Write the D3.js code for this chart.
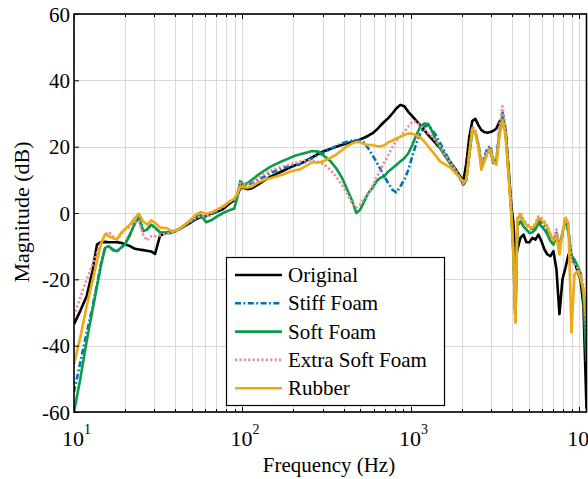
<!DOCTYPE html>
<html>
<head>
<meta charset="utf-8">
<script src="https://cdn.jsdelivr.net/npm/d3@7/dist/d3.min.js"></script>
<style>
  html, body { margin: 0; padding: 0; background: #fff; }
  svg { display: block; }
  text { font-family: "Liberation Serif", "Times New Roman", serif; fill: #000; }
</style>
</head>
<body>
<svg id="chart" width="588" height="479"></svg>
<script>
// Frequency grid (Hz) shared by every response curve
const freqHz = [10, 10.9, 11.9, 12.8, 13.7, 14.5, 15.3, 16.1, 17.0, 18.0, 19.0, 20.1, 21.5, 23.0, 24.3, 25.7, 27.1, 28.7, 30.3, 32.4,
  35.2, 38.2, 41.5, 45.0, 48.9, 53.1, 56.8, 60.8, 65.2, 70.7, 76.8, 83.4, 89.3, 93.0, 96.9,
  101, 107, 114, 124, 135, 146, 159, 172, 187, 203,
  220, 239, 259, 282, 306, 332, 360, 391, 419, 449, 474, 500, 528, 558, 590, 623, 658, 695, 734, 776, 819, 865, 914, 965, 1019, 1077, 1137, 1201, 1269, 1340, 1416,
  1495, 1601, 1715, 1836, 1966, 2048, 2134, 2223, 2316, 2413, 2515, 2620, 2730, 2844, 2964, 3088, 3217, 3352, 3493, 3639, 3791, 3951, 4058, 4171, 4287,
  4467, 4655, 4850, 5053, 5265, 5486, 5715, 5955, 6204, 6465, 6736, 7018, 7311, 7618, 7937, 8270, 8616, 8977, 9353, 9744, 10152, 10577, 11025];

// Magnitude responses (dB)
const originalDb = [-33.5, -29.5, -25, -18, -9.5, -8.8, -8.7, -8.8, -8.8, -8.8, -9, -9.4, -10, -10.8, -11, -11.2, -11.4, -11.6, -12.3, -6.8,
  -6, -5.8, -5, -4, -3, -1.8, -1.2, -0.8, -0.2, 0.4, 1.2, 2.8, 3.8, 5, 7.5,
  7.6, 7.2, 7.5, 8.6, 9.8, 10.9, 11.8, 12.6, 13.5, 14.3,
  14.8, 15.8, 16.8, 17.8, 18.7, 19.3, 20, 20.6, 21, 21.4, 21.8, 22.2, 22.7, 23.3, 24, 25, 26.3, 27.5, 28.6, 30, 31.5, 32.6, 32.2, 30.5, 29.2, 27.8, 26.5, 25, 23.5, 22.2, 20.8,
  19.5, 17.5, 15.3, 13.3, 11, 9.6, 15, 23, 27.8, 28.4, 26.5, 25, 24.4, 24.2, 24.4, 24.8, 25.5, 27.5, 28.3, 25.5, 14, 2, -3, -14, -11,
  -7.5, -6.5, -8.8, -8.8, -7.5, -8, -6.5, -8.5, -11, -12.5, -13, -11.5, -17, -30.5, -20, -16.5, -12.5, -12.8, -14.5, -17.5, -20, -28, -59];

const stiffFoamDb = [-54, -45, -36, -29, -21.5, -15, -10.5, -10, -11, -11.5, -10.5, -9.4, -6.5, -3, -1.5, -5, -5, -3.5, -4.5, -5.8,
  -6, -6, -5.2, -4, -2.8, -1.5, -0.8, -1.2, -0.5, 0.5, 1.7, 3.3, 4, 5.5, 8.5,
  8.5, 8.5, 9, 10, 11, 12, 12.8, 13.5, 14, 14.5,
  14.8, 15.5, 16.5, 17.5, 18.3, 19.3, 20.2, 21, 21.5, 21.8, 22, 21.8, 21.2, 19.5, 17.5, 15.5, 13.3, 11, 9, 7, 6.2, 8, 10, 13, 17, 21, 24, 26, 26.5, 25, 23.2,
  21, 18, 15.5, 13, 10.3, 8.2, 10.5, 18, 25.5, 24.5, 20.5, 15, 17, 19.5, 20.2, 16, 16, 25, 30.5, 25.5, 13, 0, -12, -33, -2.5,
  -1.2, -2.5, -3.5, -4.5, -4.8, -4, -2, -3, -4, -5.5, -7.5, -9, -6, -10.5, -6.5, -1.5, -5, -14, -15, -16.5, -18.5, -24, -38];

const softFoamDb = [-60, -50, -38.5, -30, -22, -15.5, -10.5, -10, -11.2, -11.5, -10.5, -9.4, -6.5, -3, -1.4, -5.5, -5, -3.5, -4.4, -5.8,
  -5.9, -5.9, -5, -3.8, -2.4, -0.8, -0.8, -2.8, -2.2, -1, 0, 0.8, 1.3, 4.5, 9.6,
  8.6, 9, 10, 11.5, 12.8, 13.9, 14.8, 15.6, 16.4, 17.2,
  17.7, 18.2, 18.7, 18.5, 17.2, 15.7, 13.5, 10.5, 7, 3.5, 0, 1, 3.5, 6, 7.5, 9.5, 10.6, 11, 12.5, 13.5, 14.5, 15.5, 16.5, 18, 20.5, 23.5, 26, 27, 26.8, 24.5, 21.5,
  19.5, 17, 14.8, 12.8, 10.5, 8.5, 10, 17.5, 25, 24, 20.5, 14, 16, 18.3, 18.5, 15, 15.5, 24, 29.5, 25, 13, 0, -12, -32, -4,
  -2.5, -4, -5, -6, -5.8, -5, -3, -4, -5, -6.5, -8.5, -9.5, -7, -10, -6, -2, -6, -13, -14, -16, -18, -25, -45];

const extraSoftFoamDb = [-31, -25.5, -20, -16, -12, -9, -6.5, -5.7, -7, -8, -6.5, -5, -4, -2.8, -2.4, -6.5, -8.3, -7, -7, -6.8,
  -6.2, -6, -5, -3.8, -2.5, -1.5, -1, -1, 0, 1, 2.2, 3.5, 4.2, 5.8, 9,
  8.8, 8.6, 9.2, 10.5, 11.7, 12.7, 13.4, 14, 14.5, 15,
  15.6, 16, 15.8, 15.4, 14.6, 13, 11, 8.3, 5.8, 2.8, 1.6, 2.6, 4.3, 6, 8, 10.5, 13, 15.3, 17.5, 19.8, 21.8, 23, 24.5, 26, 27.5, 27.5, 26.3, 25.3, 24, 23, 21.5,
  20, 17.5, 15.3, 13, 10.5, 8.5, 10.5, 18.5, 26, 25, 21, 15, 16.5, 19, 19.5, 16, 16.5, 26, 32.2, 26, 13, 0, -12, -33, -1.5,
  0.3, -2, -3, -4, -4.5, -3, -1, -1.5, -2.5, -4, -6.5, -8, -5, -10, -6, -1, -4.5, -14.5, -15.5, -16.5, -18, -22, -36];

const rubberDb = [-45.5, -37.5, -28, -21, -14.5, -9.2, -6.4, -7, -7.6, -7.9, -6, -4.8, -3.5, -1.5, -0.2, -2.5, -3.5, -2.2, -3, -4.4,
  -4.5, -5.5, -5, -3.7, -2.2, -0.4, 0.3, -0.3, 0.2, 1, 2, 3.3, 4.3, 5.5, 8,
  7.8, 7.6, 8, 9.2, 10, 10.5, 11, 11.5, 12.3, 12.8,
  13.2, 14.2, 15.3, 15.2, 15.7, 16.6, 17.6, 19, 20.2, 21, 21.4, 21.3, 20.8, 20.5, 20.5, 20.2, 20.1, 20.4, 21.3, 21.8, 22.5, 23, 23.5, 24, 23.9, 23.4, 22.8, 21.5, 20, 18.5, 17,
  15.5, 14.6, 13.7, 12, 10.5, 9.5, 10, 18, 25.5, 24, 20, 13, 15.5, 18, 19, 15.5, 14.5, 23, 27.7, 23.7, 12, -1, -12.5, -33, -2,
  -0.5, -2.5, -3.6, -4.2, -4.5, -3.5, -1.4, -2.2, -3, -4.5, -6.5, -8.4, -7, -12.5, -6, -1.5, -3, -36, -18.5, -17.5, -19.5, -23, -33];

const seriesNames = ["Original", "Stiff Foam", "Soft Foam", "Extra Soft Foam", "Rubber"];
const seriesValues = [originalDb, stiffFoamDb, softFoamDb, extraSoftFoamDb, rubberDb];
const seriesColors = ["#000000", "#0072BD", "#0B9B48", "#EE8A9B", "#EDAA12"];
const seriesDash = [null, "6,2.5,1.8,2.5", null, "2.2,2.2", null];

const yTicks = [-60, -40, -20, 0, 20, 40, 60];
const xDecades = [10, 100, 1000, 10000];
const xDecadeExp = ["1", "2", "3", "4"];

const xLabel = "Frequency (Hz)";
const yLabel = "Magnitude (dB)";

// ---- layout ----
const svg = d3.select("#chart");
const plot = { left: 74, right: 586.5, top: 14, bottom: 412 };

const x = d3.scaleLog().domain([10, 11025]).range([plot.left, plot.right]);
const y = d3.scaleLinear().domain([-60, 60]).range([plot.bottom, plot.top]);

// minor frequency ticks (2..9 in each decade)
const minorF = [];
for (const d of [10, 100, 1000]) for (let k = 2; k <= 9; k++) minorF.push(d * k);

// ---- grid ----
const grid = svg.append("g").attr("stroke", "#dadada").attr("stroke-width", 1);
grid.selectAll("line.vx").data(minorF.concat(xDecades)).join("line")
  .attr("x1", d => Math.round(x(d)) + 0.5).attr("x2", d => Math.round(x(d)) + 0.5)
  .attr("y1", plot.top).attr("y2", plot.bottom);
grid.selectAll("line.hy").data(yTicks).join("line")
  .attr("x1", plot.left).attr("x2", plot.right)
  .attr("y1", d => Math.round(y(d)) + 0.5).attr("y2", d => Math.round(y(d)) + 0.5);

// ---- curves ----
svg.append("clipPath").attr("id", "plotclip").append("rect")
  .attr("x", plot.left).attr("y", plot.top - 1)
  .attr("width", plot.right - plot.left).attr("height", plot.bottom - plot.top + 2);

const line = d3.line().x(d => x(d[0])).y(d => y(d[1]));
const curves = svg.append("g").attr("clip-path", "url(#plotclip)");
seriesValues.forEach((vals, i) => {
  const pts = freqHz.map((f, j) => [f, vals[j]]);
  curves.append("path")
    .attr("d", line(pts))
    .attr("fill", "none")
    .attr("stroke", seriesColors[i])
    .attr("stroke-width", 2.6)
    .attr("stroke-linejoin", "round")
    .attr("stroke-dasharray", seriesDash[i]);
});

// ---- axes ----
const yAxis = d3.axisLeft(y).tickValues(yTicks).tickSize(-5).tickPadding(4)
  .tickFormat(d => String(d));
const gy = svg.append("g").attr("transform", `translate(${plot.left},0)`).call(yAxis);
gy.select(".domain").remove();
gy.selectAll(".tick line").attr("stroke", "#000");
gy.selectAll("text").style("font-size", "21px").attr("dy", "0.34em");

// bottom and top ticks (inward)
const ticksG = svg.append("g").attr("stroke", "#000").attr("stroke-width", 1);
[[plot.bottom, -1], [plot.top, 1]].forEach(([yy, dir]) => {
  ticksG.selectAll(null).data(minorF).join("line")
    .attr("x1", d => Math.round(x(d)) + 0.5).attr("x2", d => Math.round(x(d)) + 0.5)
    .attr("y1", yy).attr("y2", yy + dir * 3);
  ticksG.selectAll(null).data(xDecades).join("line")
    .attr("x1", d => Math.round(x(d)) + 0.5).attr("x2", d => Math.round(x(d)) + 0.5)
    .attr("y1", yy).attr("y2", yy + dir * 5);
});

// x tick labels: 10 with superscript exponent
const xl = svg.append("g");
xDecades.forEach((d, i) => {
  const t = xl.append("text").attr("x", x(d) - 12).attr("y", 446).style("font-size", "22px");
  t.append("tspan").text("10");
  t.append("tspan").attr("dy", -12).style("font-size", "14px").text(xDecadeExp[i]);
});

// axes box
svg.append("rect")
  .attr("x", plot.left).attr("y", plot.top)
  .attr("width", plot.right - plot.left).attr("height", plot.bottom - plot.top)
  .attr("fill", "none").attr("stroke", "#000").attr("stroke-width", 1.6);

// axis titles
svg.append("text").attr("x", 329).attr("y", 472).attr("text-anchor", "middle")
  .style("font-size", "21px").text(xLabel);
svg.append("text").attr("transform", "translate(29,212) rotate(-90)").attr("text-anchor", "middle")
  .style("font-size", "22px").text(yLabel);

// ---- legend ----
const lg = svg.append("g");
lg.append("rect").attr("x", 226.5).attr("y", 257.5).attr("width", 218).attr("height", 148)
  .attr("fill", "#fff").attr("stroke", "#000").attr("stroke-width", 1.2);
seriesNames.forEach((name, i) => {
  const cy = 275 + i * 28.3;
  lg.append("line").attr("x1", 235).attr("x2", 282).attr("y1", cy).attr("y2", cy)
    .attr("stroke", seriesColors[i]).attr("stroke-width", 2.6)
    .attr("stroke-dasharray", seriesDash[i]);
  lg.append("text").attr("x", 288).attr("y", cy + 7).style("font-size", "21px").text(name);
});
</script>
</body>
</html>
